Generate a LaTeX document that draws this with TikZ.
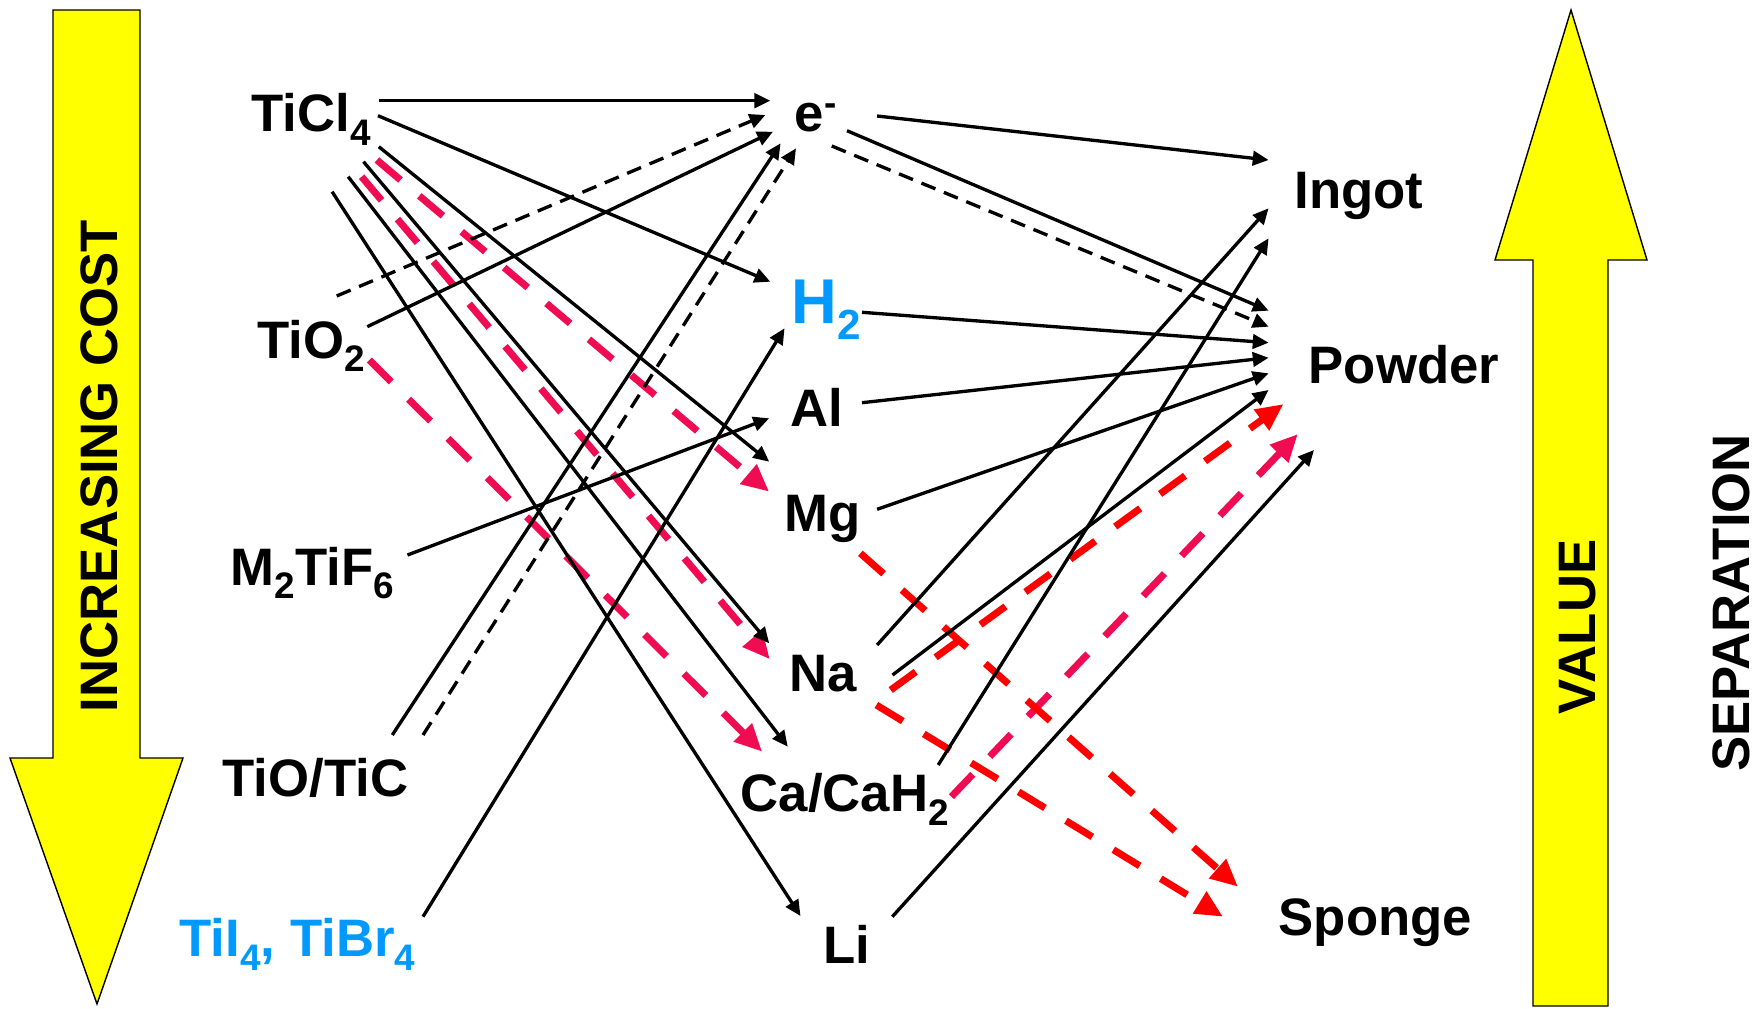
\documentclass[tikz,border=0pt]{standalone}
\usepackage{fontspec}
\setmainfont{Liberation Sans}
\usetikzlibrary{arrows.meta}
\definecolor{myyellow}{RGB}{255,255,0}
\definecolor{myblue}{RGB}{0,153,255}
\definecolor{crim}{RGB}{240,12,82}
\definecolor{bred}{RGB}{255,0,0}
\newcommand{\lo}[1]{\raisebox{-3.8pt}{\fontsize{10.5pt}{12pt}\selectfont #1}}
\newcommand{\loH}[1]{\raisebox{-4.7pt}{\fontsize{12pt}{14pt}\selectfont #1}}
\newcommand{\hi}[1]{\raisebox{4.6pt}{\fontsize{10.5pt}{12pt}\selectfont #1}}
\begin{document}
\begin{tikzpicture}[x=0.1mm,y=-0.1mm,
  lbl/.style={anchor=base west,inner sep=0pt,font=\fontsize{15pt}{18pt}\selectfont\bfseries},
  biglbl/.style={anchor=base west,inner sep=0pt,font=\fontsize{18pt}{21pt}\selectfont\bfseries},
  rot/.style={anchor=base,inner sep=0pt,rotate=90,font=\fontsize{15pt}{18pt}\selectfont\bfseries},
  conn/.style={line width=0.95pt,-{Triangle[length=4.5pt,width=4.1pt]}},
  dconn/.style={conn,dash pattern=on 4.3pt off 2.6pt},
  rconn/.style={line width=2pt,dash pattern=on 8.8pt off 7pt,-{Triangle[length=7.8pt,width=6.9pt]}},
  yarrow/.style={fill=myyellow,draw=black,line width=0.4pt,line join=miter}]
\useasboundingbox (0,0) rectangle (1755,1009);

% yellow arrows
\draw[yarrow] (53,10) -- (140,10) -- (140,758) -- (183,758) -- (97,1004) -- (10,758) -- (53,758) -- cycle;
\draw[yarrow] (1571,10) -- (1647,260) -- (1608,260) -- (1608,1006) -- (1533,1006) -- (1533,260) -- (1495,260) -- cycle;
\node[rot] (cost) at (117,466) {INCREASING COST};
\node[rot] (value) at (1595,627) {VALUE};
\node[rot] (sep) at (1749,603) {SEPARATION};

% labels
\node[lbl] (ticl4) at (251,131.7) {TiCl\lo{4}};
\node[lbl] (tio2) at (257,358.3) {TiO\lo{2}};
\node[lbl] (m2tif6) at (230,585) {M\lo{2}TiF\lo{6}};
\node[lbl] (tiotic) at (222,796.7) {TiO/TiC};
\node[lbl,text=myblue] (tii4) at (179,956.7) {TiI\lo{4}, TiBr\lo{4}};
\node[lbl] (e) at (794,131.7) {e\hi{-}};
\node[biglbl,text=myblue] (h2) at (791,323.3) {H\loH{2}};
\node[lbl] (al) at (790,426.7) {Al};
\node[lbl] (mg) at (784,531.7) {Mg};
\node[lbl] (na) at (789,691.7) {Na};
\node[lbl] (ca) at (740,811.7) {Ca/CaH\lo{2}};
\node[lbl] (li) at (823,963.3) {Li};
\node[lbl] (ingot) at (1294,208) {Ingot};
\node[lbl] (powder) at (1308,383) {Powder};
\node[lbl] (sponge) at (1278,935) {Sponge};

% connector end points
\coordinate (ticl4-a) at (378.8,100.7);
\coordinate (ticl4-b) at (378,115.7);
\coordinate (ticl4-c) at (378.8,146.7);
\coordinate (ticl4-d) at (376.9,160);
\coordinate (ticl4-e) at (363.5,161.7);
\coordinate (ticl4-f) at (361.6,176.7);
\coordinate (ticl4-g) at (348.2,176.7);
\coordinate (ticl4-h) at (332.1,191.7);
\coordinate (tio2-a) at (336.7,296);
\coordinate (tio2-b) at (367.3,326.7);
\coordinate (tio2-c) at (369.3,360);
\coordinate (m2tif6-a) at (407.5,555);
\coordinate (tiotic-a) at (392.3,735);
\coordinate (tiotic-b) at (423,735);
\coordinate (tii4-a) at (423,916.7);

\coordinate (e-in1) at (770.3,100.7);
\coordinate (e-in2) at (765.4,115);
\coordinate (e-in3) at (773,131.7);
\coordinate (e-in4) at (780.6,143.3);
\coordinate (e-in5) at (796,148.3);
\coordinate (e-out1) at (877.1,116);
\coordinate (e-out2) at (847,130.7);
\coordinate (e-out3) at (831.8,146);
\coordinate (h2-in1) at (770.3,281.7);
\coordinate (h2-in2) at (784.5,328.3);
\coordinate (h2-out) at (862,312.3);
\coordinate (al-in) at (769.2,418.3);
\coordinate (al-out) at (862,402.7);
\coordinate (mg-in1) at (769.2,461.7);
\coordinate (mg-in2) at (769.2,491.7);
\coordinate (mg-out1) at (877.1,509.3);
\coordinate (mg-out2) at (860.4,553.3);
\coordinate (na-in1) at (769.2,643.3);
\coordinate (na-in2) at (769.9,659.3);
\coordinate (na-out1) at (877.1,645);
\coordinate (na-out2) at (892.5,675);
\coordinate (na-out3) at (890.7,690);
\coordinate (na-out4) at (876.4,705);
\coordinate (ca-in1) at (787.8,746.7);
\coordinate (ca-in2) at (762.2,751.7);
\coordinate (ca-out1) at (938.2,765);
\coordinate (ca-out2) at (951.4,796.7);
\coordinate (li-in) at (800.5,916);
\coordinate (li-out) at (892.3,916.7);

\coordinate (ingot-in1) at (1268.6,160);
\coordinate (ingot-in2) at (1268.6,208.3);
\coordinate (ingot-in3) at (1268.6,238.3);
\coordinate (powder-in1) at (1268.6,310.7);
\coordinate (powder-in2) at (1268.6,326.7);
\coordinate (powder-in3) at (1268.6,342.7);
\coordinate (powder-in4) at (1268.6,357.7);
\coordinate (powder-in5) at (1268.6,373.3);
\coordinate (powder-in6) at (1268.6,390);
\coordinate (powder-in7) at (1283.6,404);
\coordinate (powder-in8) at (1297.9,434);
\coordinate (powder-in9) at (1314,450);
\coordinate (sponge-in1) at (1238,886.7);
\coordinate (sponge-in2) at (1223,916.7);

% red dashed connectors
\draw[rconn,crim] (ticl4-d) -- (mg-in2);
\draw[rconn,crim] (ticl4-f) -- (na-in2);
\draw[rconn,crim] (tio2-c) -- (ca-in2);
\draw[rconn,crim] (ca-out2) -- (powder-in8);
\draw[rconn,bred] (na-out3) -- (powder-in7);
\draw[rconn,bred] (mg-out2) -- (sponge-in1);
\draw[rconn,bred] (na-out4) -- (sponge-in2);

% black solid connectors
\draw[conn] (ticl4-a) -- (e-in1);
\draw[conn] (ticl4-b) -- (h2-in1);
\draw[conn] (ticl4-c) -- (mg-in1);
\draw[conn] (ticl4-e) -- (na-in1);
\draw[conn] (ticl4-g) -- (ca-in1);
\draw[conn] (ticl4-h) -- (li-in);
\draw[conn] (tio2-b) -- (e-in3);
\draw[conn] (m2tif6-a) -- (al-in);
\draw[conn] (tiotic-a) -- (e-in4);
\draw[conn] (tii4-a) -- (h2-in2);
\draw[conn] (e-out1) -- (ingot-in1);
\draw[conn] (e-out2) -- (powder-in1);
\draw[conn] (h2-out) -- (powder-in3);
\draw[conn] (al-out) -- (powder-in4);
\draw[conn] (mg-out1) -- (powder-in5);
\draw[conn] (na-out2) -- (powder-in6);
\draw[conn] (na-out1) -- (ingot-in2);
\draw[conn] (ca-out1) -- (ingot-in3);
\draw[conn] (li-out) -- (powder-in9);

% black dashed connectors
\draw[dconn] (tio2-a) -- (e-in2);
\draw[dconn] (tiotic-b) -- (e-in5);
\draw[dconn] (e-out3) -- (powder-in2);
\end{tikzpicture}
\end{document}
